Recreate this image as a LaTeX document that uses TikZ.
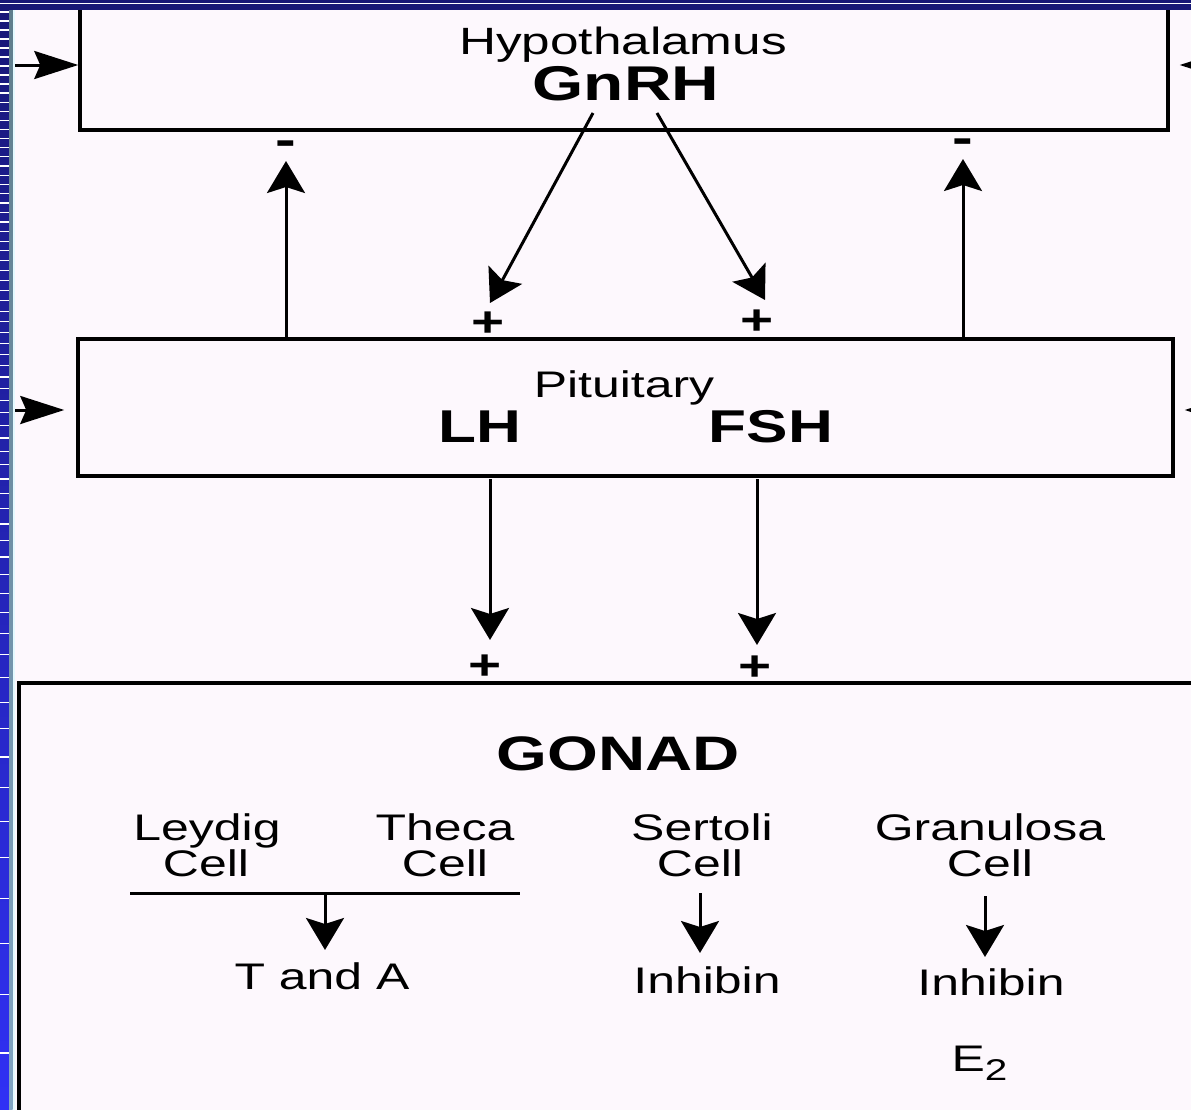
\documentclass[tikz,border=0pt]{standalone}
\usepackage{fontspec}
\setmainfont{Liberation Sans}[FakeStretch=1.35]
\usetikzlibrary{arrows.meta,calc,fit}
\definecolor{pagebg}{RGB}{253,248,253}
\definecolor{navy}{RGB}{24,24,118}
\definecolor{brightblue}{RGB}{48,48,245}
\definecolor{edgegrey}{RGB}{95,125,140}
\definecolor{edgegreyb}{RGB}{130,165,195}
\definecolor{paleaqua}{RGB}{228,250,255}

\begin{document}
\begin{tikzpicture}[x=0.5pt,y=-0.5pt,
  box/.style={draw=black,line width=1.75pt,inner sep=0pt},
  lbl/.style={anchor=base,inner sep=0pt,font=\fontsize{18.5}{22}\selectfont},
  big/.style={anchor=base,inner sep=0pt,font=\fontsize{23}{28}\selectfont\bfseries},
  plussign/.style={inner sep=0pt,font=\fontsize{21}{22}\selectfont\bfseries},
  minussign/.style={inner sep=0pt,font=\fontsize{23}{24}\selectfont\bfseries},
  arr/.style={line width=1.5pt,-{Stealth[length=16pt,width=19pt,inset=3pt]}},
  sidearr/.style={line width=1.5pt,-{Stealth[length=22pt,width=14pt,inset=3pt]}},
]
\useasboundingbox (0,0) rectangle (1191,1110);
\fill[pagebg] (0,0) rectangle (1191,1110);

\begin{scope}
\clip (0,0) rectangle (1191,1110);

% ---- boxes ----
\node[box,fit={(80,-40) (1168,130)}] (hyp) {};
\node[box,fit={(78,339) (1173,476)}] (pit) {};
\node[box,fit={(19,683) (1240,1160)}] (gon) {};

% ---- hypothalamus ----
\node[lbl,font=\fontsize{19}{22}\selectfont] (hyptxt) at (623,54) {Hypothalamus};
\node[big,font=\fontsize{24.4}{28}\selectfont\bfseries] (gnrh) at (626,100) {GnRH};

% ---- pituitary ----
\node[lbl] (pittxt) at (624,397) {Pituitary};
\node[big] (lh) at (480,442) {LH};
\node[big] (fsh) at (771,442) {FSH};

% ---- gonad ----
\node[big,font=\fontsize{24.2}{28}\selectfont\bfseries] (gonad) at (618,770) {GONAD};
\node[lbl] (leydigA) at (207,840) {Leydig};
\node[lbl] (leydigB) at (206,876) {Cell};
\node[lbl] (thecaA) at (445,840) {Theca};
\node[lbl] (thecaB) at (445,876) {Cell};
\node[lbl] (sertA) at (702,840) {Sertoli};
\node[lbl] (sertB) at (700,876) {Cell};
\node[lbl] (granA) at (990,840) {Granulosa};
\node[lbl] (granB) at (990,876) {Cell};
\node[lbl] (tanda) at (322,989) {T and A};
\node[lbl] (inhS) at (707,993) {Inhibin};
\node[lbl] (inhG) at (991,995) {Inhibin};
\node[lbl] (e2) at (980,1071) {E\textsubscript{\fontsize{15}{16}\selectfont 2}};

% ---- signs ----
\node[minussign] (minL) at (286,148) {-};
\node[minussign] (minR) at (963,146) {-};
\node[plussign] (plusL) at (488,324) {+};
\node[plussign] (plusF) at (757,322) {+};
\node[plussign] (plusLH) at (485,667) {+};
\node[plussign] (plusFSH) at (755,668) {+};

% ---- connector end points ----
\coordinate (gL) at (593,113);
\coordinate (gF) at (657,113);
\coordinate (tipL) at (490,303);
\coordinate (tipF) at (765,300);
\coordinate (lhTop) at (490,479);
\coordinate (lhTip) at (490,640);
\coordinate (fshTop) at (757,479);
\coordinate (fshTip) at (757,645);
\coordinate (barL) at (130,893);
\coordinate (barR) at (520,893);
\coordinate (barMid) at (325,893);
\coordinate (tandaTip) at (325,950);
\coordinate (sertTop) at (700,893);
\coordinate (sertTip) at (700,953);
\coordinate (granTop) at (985,896);
\coordinate (granTip) at (985,957);
\coordinate (inHypL) at (13,65);
\coordinate (inPitL) at (13,410);
\coordinate (inHypR) at (1240,65);
\coordinate (inPitR) at (1240,410);

% ---- GnRH to pituitary ----
\draw[arr] (gL) -- (tipL);
\draw[arr] (gF) -- (tipF);

% ---- negative feedback to hypothalamus ----
\draw[arr] (minL |- pit.north) -- ($(minL)+(0,13)$);
\draw[arr] (minR |- pit.north) -- ($(minR)+(0,13)$);

% ---- LH and FSH to gonad ----
\draw[arr] (lhTop) -- (lhTip);
\draw[arr] (fshTop) -- (fshTip);

% ---- inside the gonad ----
\draw[line width=1.5pt] (barL) -- (barR);
\draw[arr] (barMid) -- (tandaTip);
\draw[arr] (sertTop) -- (sertTip);
\draw[arr] (granTop) -- (granTip);

% ---- inputs from the sides ----
\draw[sidearr] (inHypL) -- (hyp.west |- inHypL);
\draw[sidearr] (inPitL) -- ($(pit.west |- inPitL)+(-12,0)$);
\draw[sidearr] (inHypR) -- ($(hyp.east |- inHypR)+(10,0)$);
\draw[sidearr] (inPitR) -- ($(pit.east |- inPitR)+(10,0)$);

% ---- slide frame: left stripe ----
\shade[top color=navy,bottom color=brightblue] (0,0) rectangle (9,1110);
\def\ty{12}
\loop
  \draw[white,line width=0.6pt] (0,\ty) -- (9,\ty);
  \pgfmathsetmacro\ty{\ty+9+50*(\ty/1000)^3}
\ifdim\ty pt<1110pt\repeat
\shade[top color=edgegrey,bottom color=edgegreyb] (9,0) rectangle (12.5,1110);
\fill[paleaqua] (12.5,0) rectangle (15,1110);

% ---- slide frame: top band ----
\fill[navy] (0,0) rectangle (1191,10);
\draw[white,line width=0.5pt] (0,3.5) -- (1191,3.5);
\end{scope}
\end{tikzpicture}
\end{document}
